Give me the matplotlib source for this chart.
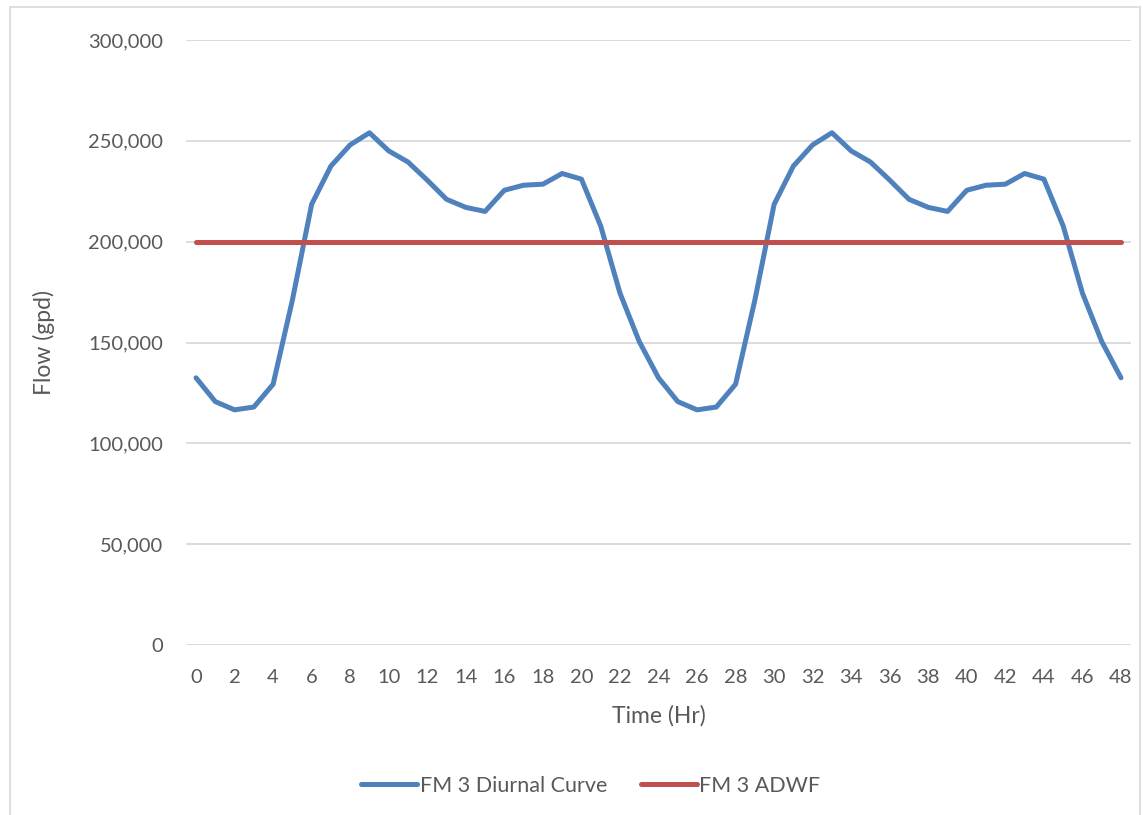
import numpy as np
import matplotlib
matplotlib.use("Agg")
import matplotlib.pyplot as plt
from matplotlib.patches import Rectangle
from matplotlib.ticker import FuncFormatter

plt.rcParams['font.family'] = ['Lato', 'DejaVu Sans']

hours = list(range(49))
diurnal = [132500, 120700, 116600, 118000, 129300, 171000, 218500, 237500, 248000, 254000,
           245000, 239500, 230500, 221000, 217000, 215000, 225500, 228000, 228500, 233800,
           231000, 207800, 174500, 150500, 132500, 120700, 116600, 118000, 129300, 171000,
           218500, 237500, 248000, 254000, 245000, 239500, 230500, 221000, 217000, 215000,
           225500, 228000, 228500, 233800, 231000, 207800, 174500, 150500, 132500]
adwf = [199600] * 49

blue = '#4F81BD'
red = '#C0504D'
grey = '#595959'

fig = plt.figure(figsize=(11.43, 8.15), dpi=100)
ax = fig.add_axes([186 / 1143, 1 - 645 / 815, (1131 - 186) / 1143, (645 - 40) / 815])

ax.plot(hours, diurnal, color=blue, lw=3.6, label='FM 3 Diurnal Curve', solid_joinstyle='round', solid_capstyle='round')
ax.plot(hours, adwf, color=red, lw=3.6, label='FM 3 ADWF', solid_capstyle='round')

ax.set_xlim(-0.52, 48.52)
ax.set_ylim(0, 300000)
ax.set_xticks(range(0, 49, 2))
ax.set_yticks(range(0, 300001, 50000))
ax.yaxis.set_major_formatter(FuncFormatter(lambda v, p: f'{int(v):,}'))
ax.grid(axis='y', color='#d9d9d9', lw=1.3)
ax.set_axisbelow(True)
for s in ax.spines.values():
    s.set_visible(False)
ax.tick_params(axis='both', length=0, labelsize=14.5, labelcolor=grey)
ax.tick_params(axis='y', pad=16.5)
ax.tick_params(axis='x', pad=17)

ax.set_xlabel('Time (Hr)', fontsize=16.5, color=grey, labelpad=14)
ax.set_ylabel('Flow (gpd)', fontsize=16.5, color=grey, labelpad=24)

leg = fig.legend(loc='center', bbox_to_anchor=(591 / 1143, 1 - 786 / 815), ncol=2, frameon=False,
                 fontsize=15.5, handlelength=2.6, handletextpad=0.1, columnspacing=1.6)
for t in leg.get_texts():
    t.set_color(grey)

fig.patches.append(Rectangle((10 / 1143, -0.01), 1130 / 1143, 1 - 7 / 815 + 0.01, transform=fig.transFigure,
                             fill=False, edgecolor='#d9d9d9', lw=1.2))

fig.savefig('out.png', dpi=100)
